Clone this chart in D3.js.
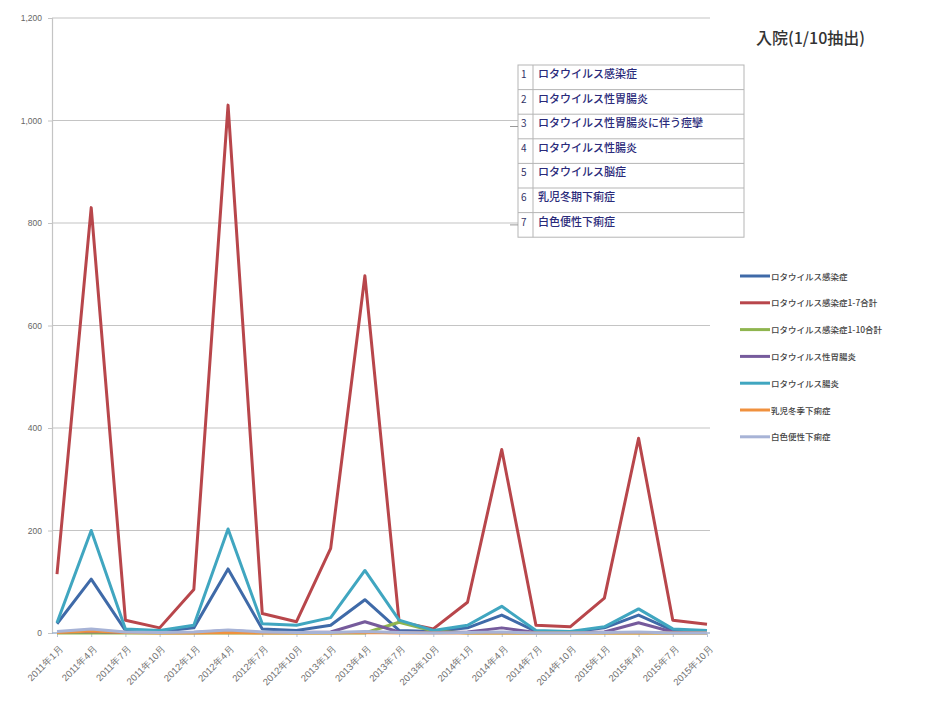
<!DOCTYPE html>
<html>
<head>
<meta charset="utf-8">
<script src="https://cdn.jsdelivr.net/npm/d3@7"></script>
<style>
  html, body { margin: 0; padding: 0; background: #fff; }
  svg { display: block; font-family: "Noto Sans CJK JP", "Noto Sans", sans-serif; }
</style>
</head>
<body>
<svg id="chart" width="931" height="702"></svg>
<script>
// Quarterly admissions (1/10 sample), Jan 2011 – Oct 2015
const months = [
  "2011年1月","2011年4月","2011年7月","2011年10月",
  "2012年1月","2012年4月","2012年7月","2012年10月",
  "2013年1月","2013年4月","2013年7月","2013年10月",
  "2014年1月","2014年4月","2014年7月","2014年10月",
  "2015年1月","2015年4月","2015年7月","2015年10月"
];

const seriesNames = [
  "ロタウイルス感染症",
  "ロタウイルス感染症1-7合計",
  "ロタウイルス感染症1-10合計",
  "ロタウイルス性胃腸炎",
  "ロタウイルス腸炎",
  "乳児冬季下痢症",
  "白色便性下痢症"
];

const seriesColors = ["#3f6aa8", "#b8464b", "#8fb54f", "#765b9c", "#40a6c0", "#f0913e", "#a7b3d6"];

const infection   = [18, 105, 5, 3, 10, 125, 8, 5, 15, 65, 5, 3, 10, 35, 3, 2, 10, 35, 5, 3];
const total1to7   = [115, 830, 25, 10, 85, 1030, 38, 22, 165, 697, 22, 8, 60, 358, 15, 12, 68, 380, 25, 17];
const total1to10  = [0, 0, 0, 0, 0, 0, 0, 0, 0, 0, 21, 4, 0, 0, 0, 0, 0, 0, 0, 0];
const gastro      = [2, 3, 1, 1, 1, 5, 1, 1, 2, 22, 2, 1, 2, 10, 1, 1, 2, 20, 2, 1];
const enteritis   = [20, 200, 8, 5, 15, 203, 18, 15, 30, 122, 25, 5, 15, 52, 5, 3, 12, 47, 8, 5];
const infantWinter= [1, 4, 1, 0, 0, 1, 0, 0, 0, 1, 0, 0, 0, 0, 0, 0, 0, 0, 0, 0];
const whiteStool  = [3, 8, 2, 1, 2, 6, 2, 1, 1, 3, 1, 0, 1, 2, 0, 0, 1, 2, 0, 0];

const seriesValues = [infection, total1to7, total1to10, gastro, enteritis, infantWinter, whiteStool];

const yTicks = [0, 200, 400, 600, 800, 1000, 1200];

const tableRows = [
  ["1", "ロタウイルス感染症"],
  ["2", "ロタウイルス性胃腸炎"],
  ["3", "ロタウイルス性胃腸炎に伴う痙攣"],
  ["4", "ロタウイルス性腸炎"],
  ["5", "ロタウイルス脳症"],
  ["6", "乳児冬期下痢症"],
  ["7", "白色便性下痢症"]
];

const title = "入院(1/10抽出)";

const svg = d3.select("#chart");

const plot = { left: 52, right: 710, top: 18, bottom: 633 };

const x = d3.scalePoint().domain(months).range([57, 707]);
const y = d3.scaleLinear().domain([0, 1200]).range([plot.bottom, plot.top]);

// horizontal gridlines
svg.append("g")
  .selectAll("line")
  .data(yTicks.filter(d => d > 0))
  .join("line")
  .attr("x1", plot.left).attr("x2", plot.right)
  .attr("y1", d => y(d)).attr("y2", d => y(d))
  .attr("stroke", "#c4c4c4").attr("stroke-width", 1.2);

// y axis
const yAxis = svg.append("g")
  .attr("transform", `translate(${plot.left},0)`)
  .call(d3.axisLeft(y).tickValues(yTicks).tickSize(4).tickPadding(6).tickFormat(d3.format(",")));
yAxis.select(".domain").attr("stroke", "#c4c4c4").attr("stroke-width", 1.2);
yAxis.selectAll(".tick line").attr("stroke", "#c4c4c4");
yAxis.selectAll("text").attr("fill", "#666").attr("font-size", 8.5)
  .attr("font-family", "'Liberation Sans', Arial, sans-serif");

// x axis
const xAxis = svg.append("g")
  .attr("transform", `translate(0,${plot.bottom})`)
  .call(d3.axisBottom(x).tickSize(4).tickPadding(4));
xAxis.select(".domain").attr("d", `M${plot.left},0H${plot.right}`)
  .attr("stroke", "#9fb4cf").attr("stroke-width", 1.5);
xAxis.selectAll(".tick line").attr("stroke", "#b8c4d6");
xAxis.selectAll("text")
  .attr("x", 0).attr("y", 0).attr("dy", "0.35em")
  .attr("fill", "#707070").attr("font-size", 9.5).attr("font-weight", 500)
  .attr("text-anchor", "end")
  .attr("transform", "translate(4,14) rotate(-45)");

// series lines (later series drawn on top)
const line = d3.line()
  .x((d, i) => x(months[i]))
  .y(d => y(d));

svg.append("g")
  .selectAll("path")
  .data(seriesValues)
  .join("path")
  .attr("d", d => line(d))
  .attr("fill", "none")
  .attr("stroke", (d, i) => seriesColors[i])
  .attr("stroke-width", 3)
  .attr("stroke-linejoin", "round");

// title
svg.append("text")
  .attr("x", 756).attr("y", 44)
  .attr("font-size", 16).attr("font-weight", 500)
  .attr("fill", "#333")
  .text(title);

// disease list table
const tbl = { x: 518, y: 65, w: 226, rowH: 24.6, numW: 15 };
const tg = svg.append("g");
tg.append("rect")
  .attr("x", tbl.x).attr("y", tbl.y)
  .attr("width", tbl.w).attr("height", tbl.rowH * tableRows.length)
  .attr("fill", "#fff").attr("stroke", "#b5b5b5");
tg.selectAll("line.row")
  .data(d3.range(1, tableRows.length))
  .join("line")
  .attr("x1", tbl.x).attr("x2", tbl.x + tbl.w)
  .attr("y1", i => tbl.y + i * tbl.rowH).attr("y2", i => tbl.y + i * tbl.rowH)
  .attr("stroke", "#b5b5b5");
tg.append("line")
  .attr("x1", tbl.x + tbl.numW).attr("x2", tbl.x + tbl.numW)
  .attr("y1", tbl.y).attr("y2", tbl.y + tbl.rowH * tableRows.length)
  .attr("stroke", "#b5b5b5");
// small connector ticks at rows 3 and 7
tg.selectAll("line.conn")
  .data([2, 6])
  .join("line")
  .attr("x1", tbl.x - 8).attr("x2", tbl.x)
  .attr("y1", i => tbl.y + i * tbl.rowH + tbl.rowH / 2)
  .attr("y2", i => tbl.y + i * tbl.rowH + tbl.rowH / 2)
  .attr("stroke", "#999");
tg.selectAll("text.num")
  .data(tableRows)
  .join("text")
  .attr("x", tbl.x + 3)
  .attr("y", (d, i) => tbl.y + i * tbl.rowH + 13)
  .attr("font-size", 10).attr("fill", "#333366")
  .text(d => d[0]);
tg.selectAll("text.name")
  .data(tableRows)
  .join("text")
  .attr("x", tbl.x + tbl.numW + 5)
  .attr("y", (d, i) => tbl.y + i * tbl.rowH + 13)
  .attr("font-size", 11).attr("font-weight", 500).attr("fill", "#2a2a7a")
  .text(d => d[1]);

// legend
const lg = svg.append("g").attr("transform", "translate(740,276)");
const lgItems = lg.selectAll("g")
  .data(seriesNames)
  .join("g")
  .attr("transform", (d, i) => `translate(0,${i * 26.8})`);
lgItems.append("line")
  .attr("x1", 0).attr("x2", 30).attr("y1", 0).attr("y2", 0)
  .attr("stroke", (d, i) => seriesColors[i]).attr("stroke-width", 3);
lgItems.append("text")
  .attr("x", 31).attr("y", 3.5)
  .attr("font-size", 8.5).attr("font-weight", 500).attr("fill", "#444")
  .text(d => d);
</script>
</body>
</html>
